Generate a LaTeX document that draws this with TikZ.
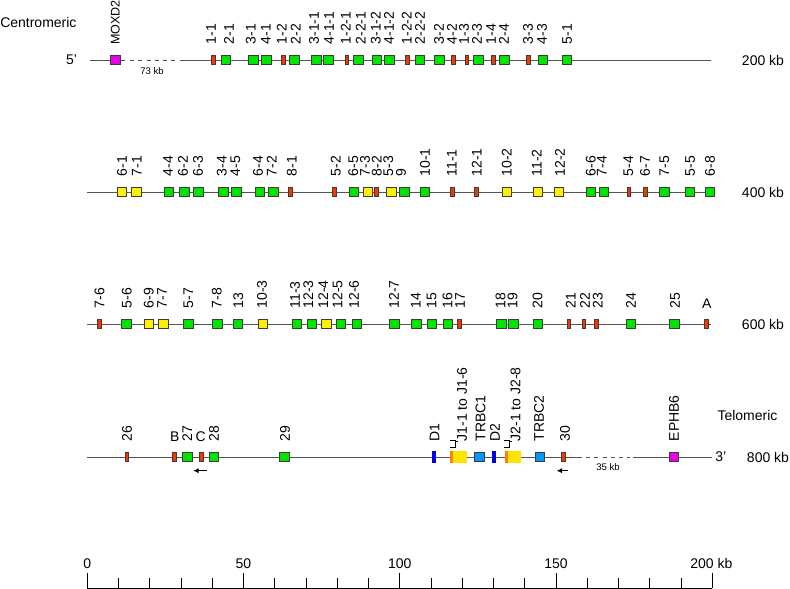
\documentclass[tikz,border=0pt]{standalone}
\usepackage{fontspec}
\setmainfont{Liberation Sans}
\usetikzlibrary{arrows.meta}
\definecolor{vgreen}{RGB}{0,228,0}
\definecolor{pyellow}{RGB}{255,240,0}
\definecolor{orfred}{RGB}{240,56,0}
\definecolor{outmag}{RGB}{232,0,232}
\definecolor{cblue}{RGB}{0,150,255}
\definecolor{dblue}{RGB}{0,0,225}
\definecolor{jorange}{RGB}{255,130,0}
\definecolor{jyellow}{RGB}{255,228,0}
\definecolor{boxline}{RGB}{60,60,60}
\definecolor{chromline}{RGB}{85,85,85}
\tikzset{
  genebox/.style={draw=boxline, line width=0.75pt, inner sep=0pt, minimum width=7.2pt, minimum height=7.2pt},
  vg/.style={genebox, fill=vgreen},
  pg/.style={genebox, fill=pyellow},
  cg/.style={genebox, fill=cblue},
  outg/.style={genebox, fill=outmag},
  orf/.style={genebox, fill=orfred, minimum width=2.8pt},
  dseg/.style={draw=dblue, fill=dblue, line width=0.3pt, inner sep=0pt, minimum width=2.4pt, minimum height=8.4pt},
  lab/.style={rotate=90, anchor=west, inner sep=0pt, font=\fontsize{10.5}{12}\selectfont},
  ulab/.style={anchor=south, inner sep=0pt, font=\fontsize{10.5}{12}\selectfont},
  txt/.style={inner sep=0pt, font=\fontsize{10.5}{12}\selectfont},
  small/.style={inner sep=0pt, font=\fontsize{7.2}{9}\selectfont},
  chrom/.style={draw=chromline, line width=0.75pt},
  gapline/.style={chrom, dash pattern=on 3pt off 3.2pt},
  rev/.style={line width=0.9pt, -{Latex[length=4pt,width=4pt]}}
}
% box at (x,y), label above at x = #4
\def\gene[#1](#2,#3)#4#5{\node[#1] (g#5) at (#2,#3) {}; \node[lab] (t#5) at (#4,#3-15.5) {#5};}

\begin{document}
\begin{tikzpicture}[x=0.75pt,y=-0.75pt]
	\useasboundingbox (0,0) rectangle (790,589);
	
	%%%%% ROW 1 %%%%%
	\node[txt, anchor=west] (centro) at (0,22) {Centromeric};
	\node[txt] (five) at (71.5,60) {5'};
	\draw[chrom] (90,60) -- (125,60);
	\draw[gapline] (130,60) -- (182,60);
	\draw[chrom] (182,60) -- (711,60);
	\node[small] (gap73) at (152,71) {73 kb};
	\node[txt, anchor=west] (kb200) at (741.7,60) {200 kb};
	
	\node[outg] (gMOXD2) at (115.3,60) {};
	\node[lab, font=\fontsize{9.4}{11}\selectfont] (tMOXD2) at (115.3,45) {MOXD2};
	\gene[orf](213.5,60){211}{1-1}
	\gene[vg](226,60){229}{2-1}
	\gene[vg](253.7,60){250.8}{3-1}
	\gene[vg](266.7,60){265.8}{4-1}
	\gene[orf](283.8,60){281.7}{1-2}
	\gene[vg](294.3,60){295.8}{2-2}
	\gene[vg](316.7,60){314}{3-1-1}
	\gene[vg](328.7,60){329}{4-1-1}
	\gene[orf](347,60){345.8}{1-2-1}
	\gene[vg](358.7,60){360.8}{2-2-1}
	\gene[vg](377,60){375.8}{3-1-2}
	\gene[vg](389.3,60){389}{4-1-2}
	\gene[orf](407.5,60){406.7}{1-2-2}
	\gene[vg](420,60){420}{2-2-2}
	\gene[vg](439.7,60){439}{3-2}
	\gene[orf](453.8,60){452}{4-2}
	\gene[orf](467,60){464}{1-3}
	\gene[vg](478.7,60){477}{2-3}
	\gene[orf](493.3,60){491}{1-4}
	\gene[vg](504.7,60){504}{2-4}
	\gene[orf](528.8,60){528}{3-3}
	\gene[vg](542.8,60){542}{4-3}
	\gene[vg](567,60){567}{5-1}
	
	%%%%% ROW 2 %%%%%
	\draw[chrom] (87.3,192) -- (711,192);
	\node[txt, anchor=west] (kb400) at (741.7,192) {400 kb};
	
	\gene[pg](122,192){122}{6-1}
	\gene[pg](136.7,192){136.7}{7-1}
	\gene[vg](168.8,192){168}{4-4}
	\gene[vg](184.5,192){183}{6-2}
	\gene[vg](198.3,192){198}{6-3}
	\gene[vg](223.3,192){221.7}{3-4}
	\gene[vg](236.5,192){235.3}{4-5}
	\gene[vg](260,192){258}{6-4}
	\gene[vg](273.3,192){271.7}{7-2}
	\gene[orf](290.8,192){291.7}{8-1}
	\gene[orf](334.8,192){335.7}{5-2}
	\gene[vg](354,192){353.3}{6-5}
	\gene[pg](367.8,192){365}{7-3}
	\gene[orf](376.8,192){376.7}{8-2}
	\gene[pg](391.7,192){388.3}{5-3}
	\gene[vg](404.7,192){401}{9}
	\gene[vg](425,192){425}{10-1}
	\gene[orf](452.5,192){451.7}{11-1}
	\gene[orf](476.3,192){476.7}{12-1}
	\gene[pg](507,192){506.7}{10-2}
	\gene[pg](537.8,192){536.7}{11-2}
	\gene[pg](558.8,192){560}{12-2}
	\gene[vg](591,192){590.8}{6-6}
	\gene[vg](603.8,192){601.7}{7-4}
	\gene[orf](629,192){628.3}{5-4}
	\gene[orf](645.8,192){645}{6-7}
	\gene[vg](664.7,192){664.3}{7-5}
	\gene[vg](690,192){690}{5-5}
	\gene[vg](710,192){710}{6-8}
	
	%%%%% ROW 3 %%%%%
	\draw[chrom] (87.3,324) -- (711,324);
	\node[txt, anchor=west] (kb600) at (741.7,324) {600 kb};
	
	\gene[orf](99.8,324){99.5}{7-6}
	\gene[vg](126.7,324){126.7}{5-6}
	\gene[pg](148.8,324){148.7}{6-9}
	\gene[pg](163.7,324){162}{7-7}
	\gene[vg](188.3,324){188.3}{5-7}
	\gene[vg](217.2,324){216.7}{7-8}
	\gene[vg](237.8,324){238.3}{13}
	\gene[pg](262.8,324){262}{10-3}
	\gene[vg](297,324){295}{11-3}
	\gene[vg](312,324){308.3}{12-3}
	\gene[pg](326.3,324){323.3}{12-4}
	\gene[vg](341,324){337.5}{12-5}
	\gene[vg](357,324){354}{12-6}
	\gene[vg](394.7,324){394}{12-7}
	\gene[vg](416.3,324){415.8}{14}
	\gene[vg](432,324){431.7}{15}
	\gene[vg](447.8,324){447.5}{16}
	\gene[orf](459.5,324){460}{17}
	\gene[vg](501.3,324){500.5}{18}
	\gene[vg](513.3,324){512.5}{19}
	\gene[vg](537.8,324){537.5}{20}
	\gene[orf](569,324){570.8}{21}
	\gene[orf](584,324){585}{22}
	\gene[orf](596.8,324){597.7}{23}
	\gene[vg](631,324){631}{24}
	\gene[vg](674.7,324){675}{25}
	\node[orf] (gA) at (706.5,324) {};
	\node[ulab] (tA) at (706.7,308.5) {A};
	
	%%%%% ROW 4 %%%%%
	\node[txt] (telo) at (747.5,415.7) {Telomeric};
	\draw[chrom] (87.3,457) -- (581.7,457);
	\draw[gapline] (586,457) -- (630,457);
	\draw[chrom] (633,457) -- (711.7,457);
	\node[small] (gap35) at (608,466.7) {35 kb};
	\node[txt] (three) at (720.8,457) {3'};
	\node[txt, anchor=west] (kb800) at (746.7,457) {800 kb};
	
	\gene[orf](127,457){127}{26}
	\node[orf] (gB) at (174.8,457) {};
	\node[ulab] (tB) at (174.7,441.7) {B};
	\gene[vg](187.5,457){187.3}{27}
	\node[orf] (gC) at (201.7,457) {};
	\node[ulab] (tC) at (200.7,441.7) {C};
	\gene[vg](214,457){214}{28}
	\gene[vg](284.7,457){285}{29}
	\draw[rev] (206.7,470.7) -- (193.3,470.7);
	
	\gene[dseg](434,457){434.5}{D1}
	\fill[jorange] (450.4,451) rectangle (453.3,463);
	\fill[jyellow] (453.3,451) rectangle (466.7,463);
	\draw[line width=0.75pt] (450,440) -- (455,440) -- (455,447) -- (450,447);
	\draw[line width=0.75pt] (455,441.5) -- (458,441.5);
	\node[lab] (tJ1) at (462,441.5) {J1-1 to J1-6};
	\gene[cg](479.7,457){480.5}{TRBC1}
	\gene[dseg](494,457){495}{D2}
	\fill[jorange] (505,451) rectangle (507.7,463);
	\fill[jyellow] (507.7,451) rectangle (521,463);
	\draw[line width=0.75pt] (504,440) -- (509,440) -- (509,447) -- (504,447);
	\draw[line width=0.75pt] (509,441.5) -- (512,441.5);
	\node[lab] (tJ2) at (515.5,441.5) {J2-1 to J2-8};
	\gene[cg](540,457){539}{TRBC2}
	\gene[orf](563.8,457){565}{30}
	\draw[rev] (568.3,470.7) -- (556.7,470.7);
	\gene[outg](673.8,457){674}{EPHB6}
	
	%%%%% SCALE %%%%%
	\draw[line width=0.75pt] (87.3,588.3) -- (712.3,588.3);
	\foreach \k in {10,20,30,40,60,70,80,90,110,120,130,140,160,170,180,190}
		\draw[line width=0.75pt] (87.3+3.125*\k,578.3) -- (87.3+3.125*\k,588.3);
	\foreach \k in {0,50,100,150,200}
		\draw[line width=0.75pt] (87.3+3.125*\k,572.7) -- (87.3+3.125*\k,588.3);
	\node[txt, anchor=base] (s0) at (87.3,568.5) {0};
	\node[txt, anchor=base] (s50) at (243.5,568.5) {50};
	\node[txt, anchor=base] (s100) at (399.8,568.5) {100};
	\node[txt, anchor=base] (s150) at (556,568.5) {150};
	\node[txt, anchor=base west] (s200) at (690,568.5) {200 kb};
\end{tikzpicture}
\end{document}
